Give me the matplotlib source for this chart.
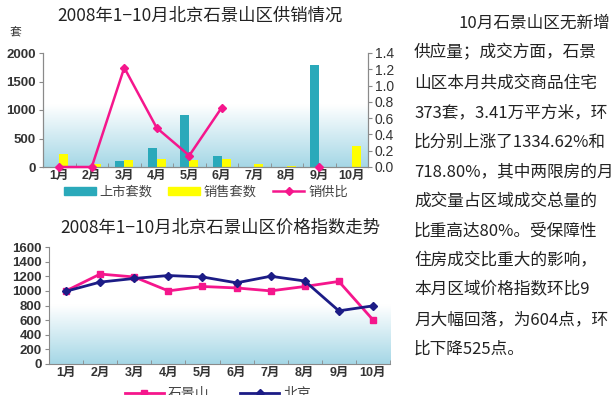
import numpy as np
import matplotlib
matplotlib.use("Agg")
import matplotlib.pyplot as plt
from matplotlib.colors import LinearSegmentedColormap
from matplotlib.patches import Patch
from matplotlib.lines import Line2D

plt.rcParams["font.family"] = ["Noto Sans CJK SC", "DejaVu Sans"]

# ---- data ----
months = ["1月", "2月", "3月", "4月", "5月", "6月", "7月", "8月", "9月", "10月"]
listed = [0, 0, 110, 330, 910, 190, 0, 0, 1790, 0]          # 上市套数
sold = [220, 60, 130, 145, 130, 145, 60, 10, 8, 373]         # 销售套数
ratio = [0, 0, 1.22, 0.48, 0.14, 0.73, np.nan, np.nan, 0, np.nan]  # 销供比
sjs_index = [1000, 1230, 1190, 1000, 1060, 1040, 1000, 1060, 1129, 604]  # 石景山
bj_index = [995, 1120, 1170, 1210, 1190, 1110, 1200, 1135, 727, 795]     # 北京

left_ticks = [0, 500, 1000, 1500, 2000]
right_ticks = [0.0, 0.2, 0.4, 0.6, 0.8, 1.0, 1.2, 1.4]
price_ticks = list(range(0, 1601, 200))

paragraph = [
    "10月石景山区无新增",
    "供应量；成交方面，石景",
    "山区本月共成交商品住宅",
    "373套，3.41万平方米，环",
    "比分别上涨了1334.62%和",
    "718.80%，其中两限房的月",
    "成交量占区域成交总量的",
    "比重高达80%。受保障性",
    "住房成交比重大的影响，",
    "本月区域价格指数环比9",
    "月大幅回落，为604点，环",
    "比下降525点。",
]

TEAL = "#2aa9ba"
YELLOW = "#ffff00"
PINK = "#f5168c"
NAVY = "#1c1c86"
AXC = "#8a8a8a"
NUM_FONT = ["Liberation Sans", "Noto Sans CJK SC"]

fade = LinearSegmentedColormap.from_list("fade", ["#ffffff", "#a5d7e6"])


def shade(ax, start):
    y = np.linspace(0, 1, 256)
    arr = np.clip((start - y) / start, 0, 1).reshape(-1, 1)
    ax.imshow(arr, cmap=fade, vmin=0, vmax=1, origin="lower", aspect="auto",
              extent=[0, 1, 0, 1], transform=ax.transAxes, zorder=0)


def style_axis(ax):
    for s in ax.spines.values():
        s.set_color(AXC)
    ax.spines["top"].set_visible(False)
    x = np.arange(len(months))
    ax.set_xticks(x)
    ax.set_xticklabels(months, family=NUM_FONT, fontweight="bold",
                       fontsize=9, color="#333333")
    ax.set_xticks(np.arange(len(months) + 1) - 0.5, minor=True)
    ax.tick_params(axis="x", which="major", length=0, pad=2)
    ax.tick_params(axis="x", which="minor", direction="in", length=3,
                   color=AXC)
    ax.set_xlim(-0.5, len(months) - 0.5)


fig = plt.figure(figsize=(6.14, 3.95), dpi=100)

# ------- top chart: supply / sales -------
ax1 = fig.add_axes([43 / 614, 1 - 167 / 395, 325 / 614, 114 / 395])
shade(ax1, 0.55)
x = np.arange(len(months))
w = 0.28
ax1.bar(x - w / 2, listed, width=w, color=TEAL, zorder=2)
ax1.bar(x + w / 2, sold, width=w, color=YELLOW, zorder=2)
ax1.set_ylim(0, 2000)
ax1.set_yticks(left_ticks)
ax1.set_yticklabels([str(t) for t in left_ticks], family=NUM_FONT,
                    fontweight="bold", fontsize=9.5, color="#333333")
ax1.tick_params(axis="y", length=3, color=AXC, pad=2)
style_axis(ax1)

ax1r = ax1.twinx()
ax1r.plot(x, ratio, color=PINK, lw=1.8, marker="D", ms=4.5, zorder=3,
          clip_on=False)
ax1r.set_ylim(0, 1.4)
ax1r.set_yticks(right_ticks)
ax1r.set_yticklabels([f"{t:.1f}" for t in right_ticks], family=NUM_FONT,
                     fontsize=10, color="#333333")
ax1r.tick_params(axis="y", length=3, color=AXC, pad=2)
for s in ax1r.spines.values():
    s.set_color(AXC)
ax1r.spines["top"].set_visible(False)

fig.text(200 / 614, 1 - 16 / 395, "2008年1−10月北京石景山区供销情况",
         ha="center", va="center", fontsize=12.5, color="#222222")
fig.text(15 / 614, 1 - 33 / 395, "套", ha="center", va="center",
         fontsize=8.5, color="#333333")

fig.legend(
    handles=[Patch(color=TEAL), Patch(color=YELLOW),
             Line2D([], [], color=PINK, lw=1.8, marker="D", ms=4.5)],
    labels=["上市套数", "销售套数", "销供比"],
    loc="center", bbox_to_anchor=(206 / 614, 1 - 192 / 395), ncol=3,
    frameon=False, fontsize=9.5, handlelength=2.4, handleheight=0.6,
    columnspacing=1.2, handletextpad=0.3, labelcolor="#444444",
    borderpad=0.1,
)

# ------- bottom chart: price index -------
ax2 = fig.add_axes([49 / 614, 1 - 364 / 395, 341 / 614, 117 / 395])
shade(ax2, 0.5)
ax2.plot(x, sjs_index, color=PINK, lw=2, marker="s", ms=5, zorder=3,
         label="石景山")
ax2.plot(x, bj_index, color=NAVY, lw=2, marker="D", ms=4.5, zorder=3,
         label="北京")
ax2.set_ylim(0, 1600)
ax2.set_yticks(price_ticks)
ax2.set_yticklabels([str(t) for t in price_ticks], family=NUM_FONT,
                    fontweight="bold", fontsize=9.5, color="#333333")
ax2.tick_params(axis="y", length=3, color=AXC, pad=2)
style_axis(ax2)
ax2.spines["right"].set_visible(False)

fig.text(220 / 614, 1 - 228 / 395, "2008年1−10月北京石景山区价格指数走势",
         ha="center", va="center", fontsize=12.5, color="#222222")

fig.legend(
    loc="center", bbox_to_anchor=(218 / 614, 1 - 394 / 395), ncol=2,
    frameon=False, fontsize=10, handlelength=2.8, columnspacing=2.2,
    handletextpad=0.3, labelcolor="#444444", borderpad=0.1,
    handles=ax2.get_lines(), labels=["石景山", "北京"],
)

# ------- article text -------
for i, line in enumerate(paragraph):
    x0 = 458 if i == 0 else 414
    fig.text(x0 / 614, 1 - (23.5 + 29.6 * i) / 395, line, ha="left",
             va="center", fontsize=12, color="#222222")

fig.savefig("out.png", dpi=100)
